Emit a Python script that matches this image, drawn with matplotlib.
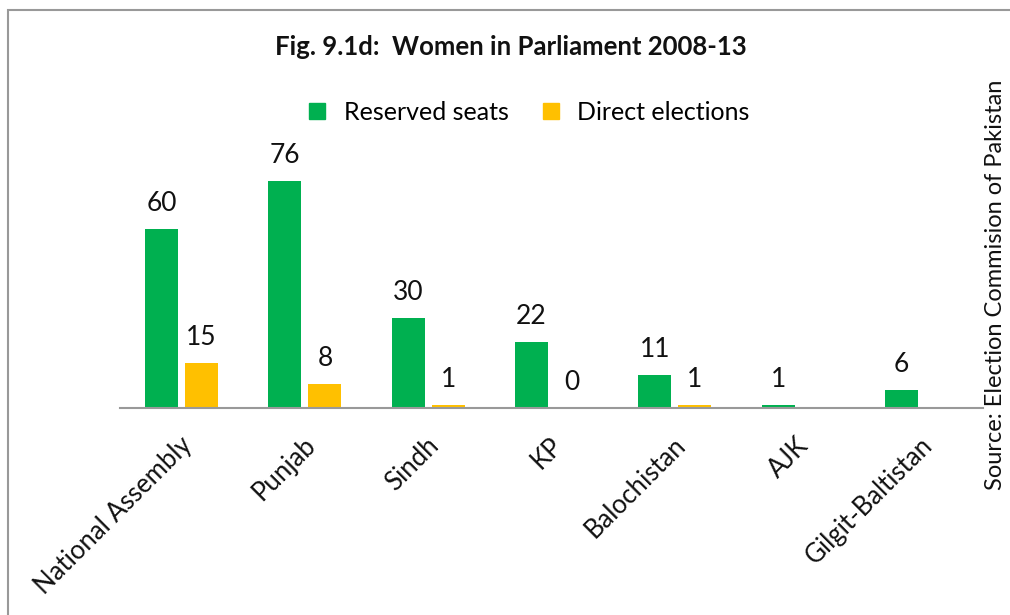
import numpy as np
import matplotlib.pyplot as plt
from matplotlib.patches import Rectangle
from matplotlib.lines import Line2D
from matplotlib.transforms import ScaledTranslation

plt.rcParams['font.family'] = ['Lato', 'DejaVu Sans']

categories = ['National Assembly', 'Punjab', 'Sindh', 'KP', 'Balochistan', 'AJK', 'Gilgit-Baltistan']
reserved = [60, 76, 30, 22, 11, 1, 6]
direct = [15, 8, 1, 0, 1, np.nan, np.nan]

green = '#00B050'
yellow = '#FFC000'

fig = plt.figure(figsize=(10.1, 6.15), dpi=100)
ax = fig.add_axes([120 / 1010, 1 - 408 / 615, 863 / 1010, 239 / 615])

x = np.arange(len(categories))
w = 0.267
off = 0.162
b1 = ax.bar(x - off, reserved, w, color=green)
b2 = ax.bar(x + off, direct, w, color=yellow)

for bars, vals in [(b1, reserved), (b2, direct)]:
    for bar, v in zip(bars, vals):
        if np.isnan(v):
            continue
        ax.annotate(f'{int(v)}', (bar.get_x() + bar.get_width() / 2, v),
                    xytext=(0, 13), textcoords='offset points',
                    ha='center', va='baseline', fontsize=19, color='#111111')

ax.set_xlim(-0.5, len(categories) - 0.5)
ax.set_ylim(0, 80)
ax.set_yticks([])
for s in ['top', 'right', 'left']:
    ax.spines[s].set_visible(False)
ax.spines['bottom'].set_color('#999999')
ax.spines['bottom'].set_linewidth(1.5)
ax.set_xticks(x)
ax.set_xticklabels(categories, rotation=45, ha='right', va='center',
                   rotation_mode='anchor', fontsize=18.5, color='#111111')
ax.tick_params(axis='x', length=0, pad=24)
shift = ScaledTranslation(7 / 100, 0, fig.dpi_scale_trans)
for lbl in ax.get_xticklabels():
    lbl.set_transform(lbl.get_transform() + shift)

fig.text(511 / 1010, 1 - 47 / 615, 'Fig. 9.1d:  Women in Parliament 2008-13',
         ha='center', va='center', fontsize=18.5, fontweight='bold', color='#111111')

handles = [Line2D([], [], marker='s', linestyle='none', markersize=12, color=c)
           for c in (green, yellow)]
fig.legend(handles, ['Reserved seats', 'Direct elections'], ncol=2, frameon=False,
           loc='center', bbox_to_anchor=(521 / 1010, 1 - 112 / 615),
           fontsize=18, handletextpad=0.05, columnspacing=0.7)

fig.text(995 / 1010, 1 - 285 / 615, 'Source: Election Commision of Pakistan',
         rotation=90, ha='center', va='center', fontsize=17, color='#111111')

fig.patches.append(Rectangle((8 / 1010, -0.1), 1.1, 1 - 10 / 615 + 0.1,
                             transform=fig.transFigure, fill=False,
                             edgecolor='#999999', linewidth=1.5))

fig.savefig('out.png', dpi=100)
